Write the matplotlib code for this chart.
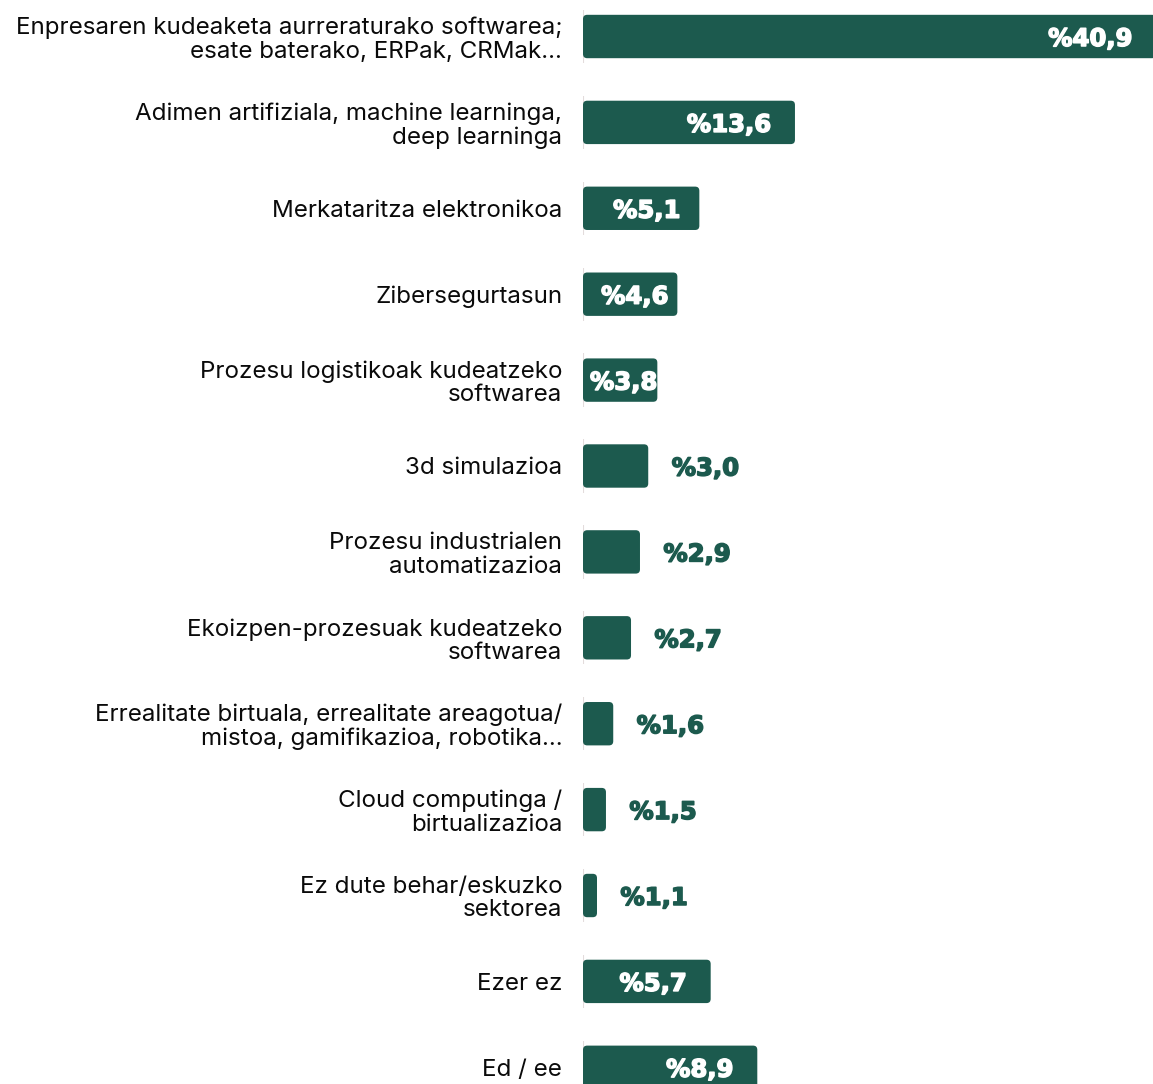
import matplotlib
matplotlib.use("Agg")
import matplotlib.pyplot as plt
import matplotlib.patheffects as pe
from matplotlib.patches import FancyBboxPatch

# categories, top to bottom
categories = [
    "Enpresaren kudeaketa aurreraturako softwarea;\nesate baterako, ERPak, CRMak...",
    "Adimen artifiziala, machine learninga,\ndeep learninga",
    "Merkataritza elektronikoa",
    "Zibersegurtasun",
    "Prozesu logistikoak kudeatzeko\nsoftwarea",
    "3d simulazioa",
    "Prozesu industrialen\nautomatizazioa",
    "Ekoizpen-prozesuak kudeatzeko\nsoftwarea",
    "Errealitate birtuala, errealitate areagotua/\nmistoa, gamifikazioa, robotika...",
    "Cloud computinga /\nbirtualizazioa",
    "Ez dute behar/eskuzko\nsektorea",
    "Ezer ez",
    "Ed / ee",
]
# percentages printed on the bars
values = [40.9, 13.6, 5.1, 4.6, 3.8, 3.0, 2.9, 2.7, 1.6, 1.5, 1.1, 5.7, 8.9]
# bar lengths as drawn in the chart (not linear in the values)
bar_len = [40.93, 15.14, 8.31, 6.74, 5.31, 4.66, 4.07, 3.43, 2.16, 1.64, 1.0, 9.12, 12.45]

green = "#1c5a4e"
W, H = 1153, 1084
px_x = 14.0     # pixels per x unit
row = 85.9      # pixels per row
top = 36.5      # centre of first row

fig = plt.figure(figsize=(W / 100, H / 100), dpi=100)
ax = fig.add_axes([583 / W, 0, 570 / W, 1])
ax.set_xlim(0, 570 / px_x)
ax.set_ylim((H - top) / row, -top / row)

ys = list(range(len(categories)))
bars = ax.barh(ys, bar_len, height=0.505, color=green)

# swap plain rectangles for rounded ones
asp = px_x / row
for b in bars:
    fb = FancyBboxPatch((b.get_x(), b.get_y()), b.get_width(), b.get_height(),
                        boxstyle="round,pad=0,rounding_size=0.3",
                        mutation_aspect=asp, facecolor=green, edgecolor="none")
    b.set_visible(False)
    ax.add_patch(fb)

# faint baseline pieces per row
ax.vlines([0] * len(ys), [y - 0.31 for y in ys], [y + 0.31 for y in ys],
          color="#e3dcdc", lw=1.5, zorder=0)

for y, v, L in zip(ys, values, bar_len):
    lab = "%" + f"{v:.1f}".replace(".", ",")
    w = L * px_x
    if w >= 70:
        pad = min(24, max(0, (w - 74) * 0.45))
        x, ha, col = L - pad / px_x, "right", "white"
    else:
        x, ha, col = L + 57 / px_x, "center", green
    ax.text(x, y, lab, ha=ha, va="center_baseline", color=col,
            fontsize=17.5, fontweight="bold", family="DejaVu Sans",
            path_effects=[pe.withStroke(linewidth=1.1, foreground=col)])

ax.set_yticks(ys)
ax.set_yticklabels(categories, fontsize=17.4, family="Inter", color="#0a0a0a",
                   linespacing=1.08)
ax.tick_params(axis="y", length=0, pad=15)
ax.set_xticks([])
for s in ax.spines.values():
    s.set_visible(False)
ax.patch.set_alpha(0)

fig.savefig("out.png", dpi=100)
